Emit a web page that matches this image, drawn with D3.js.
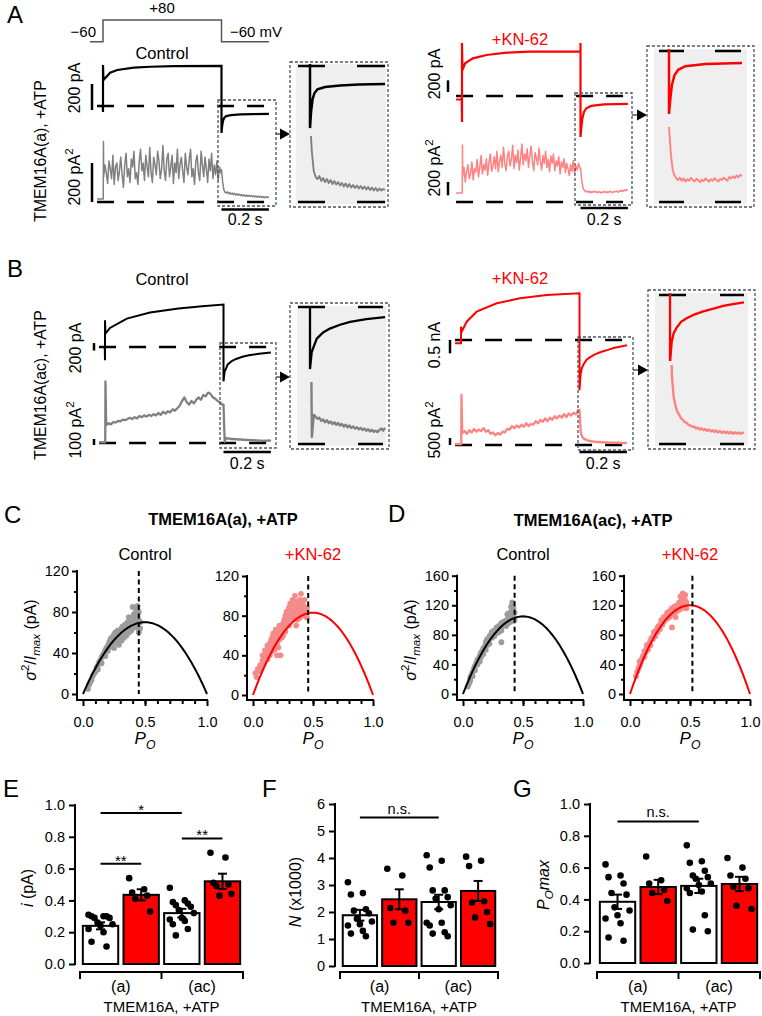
<!DOCTYPE html>
<html>
<head>
<meta charset="utf-8">
<script src="https://cdn.jsdelivr.net/npm/d3@7"></script>
<style>
  body { margin: 0; background: #fff; }
</style>
</head>
<body>
<svg id="fig" width="762" height="1016"></svg>
<script>
// ---------------- data ----------------
// voltage protocol (s, mV)
const protoV = [[-0.055, -60], [0, -60], [0, 80], [0.5, 80], [0.5, -60], [0.7, -60]];

// currents (s, pA)
const aCtrlCur = [[-0.025, 0], [-0.001, 0], [0, -46], [0, 315], [0.002, 200], [0.03, 256], [0.06, 277], [0.13, 295], [0.2, 302], [0.3, 307], [0.5, 308]];
const aCtrlTail = [[0.5, -207], [0.503, -150], [0.507, -110], [0.512, -90], [0.52, -78], [0.54, -70], [0.58, -65], [0.63, -62], [0.7, -60]];
const aKnCur = [[-0.025, -60], [-0.001, -60], [0, -446], [0, 909], [0.002, 446], [0.013, 560], [0.046, 646], [0.104, 703], [0.188, 743], [0.287, 760], [0.5, 760], [0.5, 909]];
const aKnTail = [[0.5, -703], [0.504, -520], [0.508, -380], [0.515, -270], [0.525, -210], [0.545, -170], [0.6, -145], [0.7, -135]];
const bCtrlCur = [[-0.025, 0], [-0.001, 0], [0, -359], [0, 722], [0.002, 362], [0.021, 514], [0.092, 768], [0.19, 930], [0.31, 1038], [0.41, 1100], [0.5, 1146]];
const bCtrlTail = [[0.5, -927], [0.5045, -673], [0.518, -472], [0.535, -380], [0.553, -323], [0.58, -265], [0.607, -224], [0.65, -180], [0.7, -150]];
const bKnCur = [[-0.025, -125], [-0.001, -125], [0, -125], [0, 500], [0.003, 311], [0.024, 686], [0.066, 1061], [0.151, 1375], [0.249, 1563], [0.362, 1688], [0.5, 1750]];
const bKnTail = [[0.5, -1875], [0.5046, -1286], [0.51, -1050], [0.518, -900], [0.53, -740], [0.545, -640], [0.565, -540], [0.59, -450], [0.62, -370], [0.644, -300], [0.67, -250], [0.7, -200]];

// variance (pA^2): holding level, onset spike, samples during pulse, samples of tail
const varHold = [15, 135, 10, 60];
const varSpike = [310, 855, 1027, 3570];
const aCtrlBand = [130, 190, 150, 95, 210, 170, 120, 240, 90, 180,
  200, 110, 160, 230, 140, 75, 190, 250, 130, 170,
  100, 220, 180, 260, 120, 150, 90, 210, 270, 160,
  200, 110, 240, 180, 130, 280, 150, 100, 230, 190,
  140, 260, 210, 120, 170, 290, 160, 110, 220, 250,
  130, 180, 240, 95, 200, 150, 270, 120, 190, 230,
  160, 100, 250, 180, 140, 220, 270, 130, 170, 90,
  210, 240, 150, 110, 260, 190, 130, 230, 170, 100,
  220, 160, 250, 120, 190, 140, 210, 110, 180, 150];
const aKnBand = [380, 520, 300, 460, 560, 350, 420, 600, 330, 500,
  450, 640, 380, 520, 700, 420, 560, 480, 650, 400,
  590, 720, 460, 540, 680, 500, 760, 450, 610, 700,
  520, 820, 580, 470, 690, 760, 540, 640, 850, 500,
  700, 590, 780, 480, 660, 870, 560, 720, 620, 800,
  520, 690, 840, 600, 470, 740, 660, 560, 810, 620,
  480, 700, 580, 760, 520, 640, 450, 690, 580, 720,
  470, 620, 540, 680, 420, 600, 520, 650, 440, 580,
  500, 400, 560, 460, 620, 430, 540, 480, 580, 510];
const bCtrlBand = [300, 330, 310, 350, 340, 370, 360, 390, 380, 400, 420, 400, 430, 410, 450, 430, 460, 440, 470, 450,
  480, 460, 500, 470, 520, 490, 530, 510, 560, 540, 580, 620, 700, 760, 680, 640, 700, 660, 720, 760,
  720, 800, 780, 840, 820, 760, 740, 700, 680, 640];
const bKnBand = [850, 1000, 800, 1050, 900, 1150, 950, 1100, 1000, 1200, 950, 1050, 800, 900, 700, 850, 750, 950, 900, 1150,
  1100, 1350, 1200, 1400, 1250, 1450, 1300, 1550, 1350, 1500, 1450, 1700, 1550, 1800, 1650, 1900, 1700, 1950, 1800, 2050,
  1900, 2100, 1950, 2200, 2000, 2250, 2100, 2300, 2200, 2500];
const aCtrlVarTail = [165, 100, 62, 50, 46, 52, 42, 48, 40, 46, 38, 44, 36, 42, 35, 40, 33, 38, 31, 37, 30, 36, 29, 34, 28, 33, 27, 32, 26, 31, 25, 30, 24, 29, 23, 28, 22, 27, 23, 26, 24];
const aKnVarTail = [510, 330, 220, 180, 160, 150, 165, 145, 160, 140, 155, 145, 165, 150, 140, 158, 148, 135, 152, 142, 160, 150, 138, 155, 145, 162, 150, 140, 158, 150, 165, 155, 145, 170, 160, 175, 162, 180, 168, 185, 175];
const bCtrlVarTail = [640, 20, 83, 78, 72, 75, 66, 70, 62, 68, 60, 64, 57, 62, 55, 60, 53, 57, 50, 55, 48, 53, 46, 50, 44, 48, 42, 46, 40, 44, 38, 42, 36, 40, 35, 38, 34, 40, 44, 38, 46];
const bKnVarTail = [2500, 950, 640, 520, 440, 400, 350, 330, 300, 290, 260, 255, 235, 240, 215, 225, 200, 215, 190, 205, 180, 198, 172, 190, 165, 185, 160, 178, 152, 172, 148, 168, 145, 165, 140, 160, 142, 158, 138, 156, 150];

// C, D: variance/Imax vs Po
const cCtrlPts = [[0.04,5],[0.05,9],[0.06,12],[0.07,14],[0.08,18],[0.09,20],[0.1,22],[0.11,26],[0.12,28],[0.12,24],[0.13,31],[0.14,33],[0.15,36],[0.15,30],[0.16,38],[0.17,40],[0.18,43],[0.18,37],[0.19,45],[0.2,47],[0.2,42],[0.21,50],[0.22,46],[0.22,53],[0.23,55],[0.23,49],[0.24,52],[0.25,58],[0.25,45],[0.26,54],[0.26,60],[0.27,50],[0.27,56],[0.28,62],[0.28,52],[0.29,58],[0.29,48],[0.3,60],[0.3,55],[0.31,64],[0.31,52],[0.32,58],[0.32,66],[0.33,55],[0.33,62],[0.34,60],[0.34,68],[0.35,57],[0.35,64],[0.36,62],[0.36,70],[0.37,60],[0.37,66],[0.38,64],[0.38,72],[0.39,68],[0.39,62],[0.4,66],[0.4,74],[0.41,70],[0.41,78],[0.42,68],[0.42,74],[0.43,72],[0.43,82],[0.44,76],[0.44,68],[0.45,72],[0.45,80],[0.46,70],[0.46,64],[0.4,85],[0.42,84],[0.44,86],[0.37,75],[0.45,60],[0.43,65]];
const cKnPts = [[0.02,22],[0.03,18],[0.04,26],[0.05,24],[0.06,30],[0.07,28],[0.08,35],[0.08,40],[0.09,32],[0.1,38],[0.1,45],[0.11,42],[0.12,36],[0.12,50],[0.13,46],[0.14,52],[0.14,40],[0.15,55],[0.15,48],[0.16,44],[0.16,58],[0.17,50],[0.17,62],[0.18,54],[0.18,46],[0.19,60],[0.19,66],[0.2,52],[0.2,58],[0.21,64],[0.21,48],[0.22,56],[0.22,70],[0.23,62],[0.23,40],[0.24,66],[0.24,58],[0.25,72],[0.25,60],[0.26,68],[0.26,76],[0.27,64],[0.27,80],[0.28,72],[0.28,84],[0.29,76],[0.3,70],[0.3,88],[0.31,80],[0.31,92],[0.32,76],[0.32,86],[0.33,82],[0.33,96],[0.34,78],[0.34,90],[0.35,84],[0.35,100],[0.36,80],[0.36,94],[0.37,86],[0.37,76],[0.38,90],[0.38,82],[0.39,96],[0.39,78],[0.4,88],[0.4,102],[0.41,84],[0.41,94],[0.42,90],[0.42,80],[0.43,86],[0.43,96],[0.44,82],[0.45,88],[0.45,78],[0.36,70],[0.2,40]];
const dCtrlPts = [[0.04,10],[0.05,14],[0.06,18],[0.06,22],[0.07,26],[0.08,24],[0.08,30],[0.09,34],[0.1,32],[0.1,38],[0.11,42],[0.12,40],[0.12,46],[0.13,48],[0.14,44],[0.14,52],[0.15,50],[0.15,56],[0.16,58],[0.17,54],[0.17,62],[0.18,64],[0.19,60],[0.19,70],[0.2,66],[0.2,74],[0.21,72],[0.22,78],[0.22,68],[0.23,80],[0.24,76],[0.24,84],[0.25,80],[0.26,86],[0.26,78],[0.27,84],[0.28,90],[0.28,82],[0.29,88],[0.3,84],[0.3,92],[0.31,90],[0.32,86],[0.32,96],[0.33,92],[0.34,98],[0.32,70],[0.35,94],[0.36,100],[0.36,92],[0.37,98],[0.38,104],[0.38,96],[0.39,102],[0.39,110],[0.4,106],[0.4,98],[0.41,112],[0.41,104],[0.42,108],[0.42,116],[0.43,110],[0.43,100],[0.4,118],[0.41,124],[0.37,108]];
const dKnPts = [[0.05,24],[0.06,30],[0.07,34],[0.08,38],[0.08,44],[0.09,42],[0.1,48],[0.11,52],[0.12,50],[0.12,58],[0.13,56],[0.14,62],[0.14,66],[0.15,60],[0.16,68],[0.17,72],[0.17,66],[0.18,76],[0.19,74],[0.2,80],[0.2,84],[0.21,78],[0.22,86],[0.23,90],[0.23,84],[0.24,92],[0.25,88],[0.26,96],[0.26,100],[0.27,94],[0.28,98],[0.28,104],[0.29,100],[0.3,106],[0.31,102],[0.31,110],[0.32,106],[0.33,112],[0.33,104],[0.34,108],[0.35,116],[0.35,90],[0.36,112],[0.37,118],[0.37,110],[0.38,114],[0.39,120],[0.39,112],[0.4,118],[0.41,124],[0.41,114],[0.42,120],[0.43,126],[0.43,116],[0.44,122],[0.45,130],[0.45,118],[0.46,126],[0.46,134],[0.47,124],[0.47,116],[0.44,136],[0.42,132],[0.38,104]];
const fitPeak = [70, 83, 105, 120];      // parabola maximum (pA)
const poMaxLine = [0.45, 0.46, 0.43, 0.52];

// E-G: bar summaries  (order: (a) ctrl, (a) KN-62, (ac) ctrl, (ac) KN-62)
const groups = ['(a)', '(ac)'];
const eMean = [0.24, 0.435, 0.32, 0.52];
const eSem = [0.022, 0.035, 0.027, 0.048];
const eDots = [[0.31,0.30,0.30,0.30,0.29,0.29,0.26,0.25,0.24,0.22,0.20,0.14,0.11],
  [0.54,0.47,0.45,0.43,0.41,0.33],
  [0.48,0.40,0.39,0.38,0.37,0.36,0.34,0.32,0.29,0.28,0.27,0.25,0.22,0.18],
  [0.70,0.67,0.51,0.50,0.49,0.44,0.43]];
const eSig = [[0, 2, 0.95, '*'], [0, 1, 0.63, '**'], [2, 3, 0.79, '**']];
const fMean = [1.88, 2.47, 2.37, 2.78];
const fSem = [0.2, 0.37, 0.27, 0.37];
const fDots = [[3.1,2.7,2.65,2.1,2.05,1.95,1.75,1.65,1.55,1.5,1.3,1.2,1.1],
  [3.6,3.35,2.15,2.05,1.6,1.6],
  [4.1,3.9,3.65,2.8,2.8,2.55,2.5,2.25,2.1,1.6,1.6,1.5,1.25,1.2,1.1],
  [4.05,3.9,3.7,2.4,2.35,2.0,1.8,1.55]];
const fSig = [[0, 2, 5.5, 'n.s.']];
const gMean = [0.385, 0.478, 0.485, 0.497];
const gSem = [0.045, 0.045, 0.045, 0.045];
const gDots = [[0.62,0.55,0.54,0.50,0.44,0.43,0.35,0.33,0.30,0.28,0.25,0.16,0.14],
  [0.67,0.52,0.50,0.46,0.44,0.39],
  [0.74,0.64,0.63,0.58,0.55,0.54,0.53,0.50,0.49,0.47,0.45,0.44,0.30,0.21,0.20],
  [0.66,0.60,0.55,0.53,0.48,0.47,0.36,0.34]];
const gSig = [[0, 2, 0.89, 'n.s.']];

// ---------------- drawing ----------------
const FONT = '"Liberation Sans", Arial, Helvetica, sans-serif';
const svg = d3.select('#fig').attr('font-family', FONT);
const defs = svg.append('defs');
const RED = '#ff0000', PINK = '#ff8282', GRAY = '#808080';
const PX_PER_S = 237;

// text with italic / super / sub parts
function rich(x, y, parts, o = {}) {
  const size = o.size || 14;
  const t = svg.append('text')
    .attr('transform', `translate(${x},${y}) rotate(${o.rot || 0})`)
    .attr('text-anchor', o.anchor || 'middle')
    .attr('font-size', size)
    .attr('font-weight', o.weight || 'normal')
    .attr('fill', o.fill || '#000');
  let shift = 0;
  parts.forEach(p => {
    const f = p[1] || '';
    const want = f.includes('u') ? -0.42 * size : f.includes('d') ? 0.28 * size : 0;
    const s = t.append('tspan').text(p[0]).attr('dy', want - shift);
    shift = want;
    if (f.includes('i')) s.attr('font-style', 'italic');
    if (f.includes('u') || f.includes('d')) s.attr('font-size', size * 0.72);
  });
  return t;
}

// panel letters
[['A', 7, 23], ['B', 7, 277], ['C', 4, 523], ['D', 388, 522], ['E', 3, 797], ['F', 262, 797], ['G', 513, 797]]
  .forEach(d => rich(d[1], d[2], [[d[0]]], { size: 24, anchor: 'start' }));

// voltage protocol
{
  const x = d3.scaleLinear().domain([0, 1]).range([103, 103 + PX_PER_S]);
  const y = d3.scaleLinear().domain([-60, 80]).range([41.7, 20]);
  svg.append('path').datum(protoV)
    .attr('d', d3.line().x(d => x(d[0])).y(d => y(d[1])))
    .attr('fill', 'none').attr('stroke', '#555').attr('stroke-width', 1.5);
  rich(162, 13, [['+80']], { size: 15 });
  rich(96, 37, [['\u221260']], { size: 15, anchor: 'end' });
  rich(230, 37, [['\u221260 mV']], { size: 15, anchor: 'start' });
}

// side labels
rich(46, 151, [['TMEM16A(a), +ATP']], { size: 15.8, rot: -90 });
rich(46, 385, [['TMEM16A(ac), +ATP']], { size: 15.8, rot: -90 });

const traceLayout = [
  { x0: 103, iz: 106, ik: 0.13, vz: 202, vk: 0.195, sbx: 92, ib: 110, vb: 202, ival: 200, vval: 200,
    ilab: [['200 pA']], vlab: [['200 pA'], ['2', 'u']], lx: 80, ily: 88, vly: 177,
    title: 'Control', tx: 162, ty: 59, box: [218, 100, 276, 206], tby: 209.5, tly: 225, ay: 134,
    ins: { box: [290, 62, 388, 207], inner: [296, 64, 386, 204], x0: 310, x1: 385, iz: 66, ik: 0.3, vz: 202, vk: 0.5, vTop: 136, bars: [[298, 325], [357, 385]] },
    lw: 2.2, vlw: 1.5, ivlw: 1.9 },
  { x0: 462, iz: 96, ik: 0.0583, vz: 202, vk: 0.0667, sbx: 448, ib: 92, vb: 195.3, ival: 200, vval: 200,
    ilab: [['200 pA']], vlab: [['200 pA'], ['2', 'u']], lx: 440, ily: 74, vly: 168,
    title: '+KN-62', tx: 520, ty: 45, box: [575, 93, 632, 205], tby: 208, tly: 225, ay: 115,
    ins: { box: [647, 46, 754, 207], inner: [654, 49, 747, 204], x0: 669, x1: 742, iz: 51, ik: 0.0896, vz: 202, vk: 0.147, vTop: 127, bars: [[659, 684], [715, 741]] },
    lw: 2.2, vlw: 1.5, ivlw: 1.9 },
  { x0: 105, iz: 347, ik: 0.037, vz: 443, vk: 0.06, sbx: 94, ib: 350.5, vb: 445, ival: 200, vval: 100,
    ilab: [['200 pA']], vlab: [['100 pA'], ['2', 'u']], lx: 81, ily: 348, vly: 430,
    title: 'Control', tx: 162, ty: 285, box: [220, 343, 276, 448], tby: 452, tly: 469, ay: 377,
    ins: { box: [290, 303, 389, 449], inner: [297, 306, 386, 446], x0: 310, x1: 385, iz: 307, ik: 0.0669, vz: 444, vk: 0.35, vTop: 382, bars: [[298, 325], [358, 383]] },
    lw: 2, vlw: 2.3, ivlw: 2.4 },
  { x0: 461, iz: 340, ik: 0.0267, vz: 445, vk: 0.014, sbx: 450, ib: 353.3, vb: 445, ival: 500, vval: 500,
    ilab: [['0.5 nA']], vlab: [['500 pA'], ['2', 'u']], lx: 440, ily: 345, vly: 430,
    title: '+KN-62', tx: 520, ty: 284, box: [578, 337, 633, 450], tby: 452, tly: 469, ay: 370,
    ins: { box: [648, 290, 755, 449], inner: [655, 293, 748, 446], x0: 670, x1: 744, iz: 295, ik: 0.0363, vz: 444, vk: 0.073, vTop: 365, bars: [[659, 686], [720, 744]] },
    lw: 2, vlw: 2.3, ivlw: 2.4 }
];
const traceData = [
  [aCtrlCur, aCtrlTail, aCtrlBand, aCtrlVarTail, '#000', GRAY],
  [aKnCur, aKnTail, aKnBand, aKnVarTail, RED, PINK],
  [bCtrlCur, bCtrlTail, bCtrlBand, bCtrlVarTail, '#000', GRAY],
  [bKnCur, bKnTail, bKnBand, bKnVarTail, RED, PINK]
];

traceLayout.forEach((L, k) => {
  const [cur, tail, band, vtail, col, vcol] = traceData[k];
  const g = svg.append('g');
  const x = d3.scaleLinear().domain([0, 1]).range([L.x0, L.x0 + PX_PER_S]);
  const yI = d3.scaleLinear().domain([0, 1]).range([L.iz, L.iz - L.ik]);
  const yV = d3.scaleLinear().domain([0, 1]).range([L.vz, L.vz - L.vk]);
  const tailT = i => 0.5 + i * 0.2 / (vtail.length - 1);
  const vTailPts = vtail.map((v, i) => [tailT(i), v]);
  const vPts = [[-0.025, varHold[k]], [0.001, varHold[k]], [0.002, varSpike[k]]]
    .concat(band.map((v, i) => [(i + 0.5) * 0.5 / band.length, v]))
    .concat(vTailPts);
  const iPts = cur.concat(tail);

  // zero lines
  [L.iz, L.vz].forEach(yy => g.append('line')
    .attr('x1', x(-0.025)).attr('x2', x(0.7)).attr('y1', yy).attr('y2', yy)
    .attr('stroke', '#000').attr('stroke-width', 2.5).attr('stroke-dasharray', '17,13'));

  g.append('path').datum(vPts)
    .attr('d', d3.line().x(d => x(d[0])).y(d => yV(d[1])))
    .attr('fill', 'none').attr('stroke', vcol).attr('stroke-width', L.vlw).attr('stroke-linejoin', 'round');
  g.append('path').datum(iPts)
    .attr('d', d3.line().x(d => x(d[0])).y(d => yI(d[1])))
    .attr('fill', 'none').attr('stroke', col).attr('stroke-width', L.lw);

  // scale bars
  g.append('line').attr('x1', L.sbx).attr('x2', L.sbx).attr('y1', L.ib).attr('y2', L.ib - (yI(0) - yI(L.ival)))
    .attr('stroke', '#000').attr('stroke-width', 2.5);
  g.append('line').attr('x1', L.sbx).attr('x2', L.sbx).attr('y1', L.vb).attr('y2', L.vb - (yV(0) - yV(L.vval)))
    .attr('stroke', '#000').attr('stroke-width', 2.5);
  rich(L.lx, L.ily, L.ilab, { size: 16, rot: -90 });
  rich(L.lx, L.vly, L.vlab, { size: 16, rot: -90 });
  rich(L.tx, L.ty, [[L.title]], { size: 16.5, fill: col });

  // time bar
  g.append('line').attr('x1', x(0.5)).attr('x2', x(0.7)).attr('y1', L.tby).attr('y2', L.tby)
    .attr('stroke', '#000').attr('stroke-width', 2.5);
  rich((x(0.5) + x(0.7)) / 2, L.tly, [['0.2 s']], { size: 16 });

  // zoom box + arrow
  const b = L.box;
  g.append('rect').attr('x', b[0]).attr('y', b[1]).attr('width', b[2] - b[0]).attr('height', b[3] - b[1])
    .attr('fill', 'none').attr('stroke', '#4a5363').attr('stroke-width', 1.3).attr('stroke-dasharray', '3,2');
  const I = L.ins;
  g.append('line').attr('x1', b[2]).attr('x2', I.box[0] - 8).attr('y1', L.ay).attr('y2', L.ay)
    .attr('stroke', '#000').attr('stroke-width', 1);
  g.append('path').attr('d', `M${I.box[0] - 10},${L.ay - 5.5}L${I.box[0]},${L.ay}L${I.box[0] - 10},${L.ay + 5.5}Z`).attr('fill', '#000');

  // inset
  g.append('rect').attr('x', I.box[0]).attr('y', I.box[1]).attr('width', I.box[2] - I.box[0]).attr('height', I.box[3] - I.box[1])
    .attr('fill', '#fff').attr('stroke', '#4a5363').attr('stroke-width', 1.3).attr('stroke-dasharray', '3,2');
  g.append('rect').attr('x', I.inner[0]).attr('y', I.inner[1]).attr('width', I.inner[2] - I.inner[0]).attr('height', I.inner[3] - I.inner[1])
    .attr('fill', '#efefef');
  const xi = d3.scaleLinear().domain([0.5, 0.7]).range([I.x0, I.x1]);
  const yIi = d3.scaleLinear().domain([0, 1]).range([I.iz, I.iz - I.ik]);
  const yVi = d3.scaleLinear().domain([0, 1]).range([I.vz, I.vz - I.vk]);
  [I.iz, I.vz].forEach(yy => I.bars.forEach(br => g.append('line')
    .attr('x1', br[0]).attr('x2', br[1]).attr('y1', yy).attr('y2', yy)
    .attr('stroke', '#000').attr('stroke-width', 2.5)));
  defs.append('clipPath').attr('id', 'ci' + k).append('rect')
    .attr('x', I.inner[0]).attr('y', I.inner[1]).attr('width', I.inner[2] - I.inner[0]).attr('height', I.vTop - 4 - I.inner[1]);
  defs.append('clipPath').attr('id', 'cv' + k).append('rect')
    .attr('x', I.inner[0]).attr('y', I.vTop).attr('width', I.inner[2] - I.inner[0]).attr('height', I.inner[3] - I.vTop);
  const iIns = cur.filter(d => d[0] >= 0.5).concat(tail);
  g.append('path').datum(vTailPts).attr('clip-path', `url(#cv${k})`)
    .attr('d', d3.line().x(d => xi(d[0])).y(d => yVi(d[1])))
    .attr('fill', 'none').attr('stroke', vcol).attr('stroke-width', L.ivlw).attr('stroke-linejoin', 'round');
  g.append('path').datum(iIns).attr('clip-path', `url(#ci${k})`)
    .attr('d', d3.line().x(d => xi(d[0])).y(d => yIi(d[1])))
    .attr('fill', 'none').attr('stroke', col).attr('stroke-width', L.lw + 0.3);
});

// ---------- C, D ----------
rich(223, 525, [['TMEM16A(a), +ATP']], { size: 16.5, weight: 'bold' });
rich(593, 526, [['TMEM16A(ac), +ATP']], { size: 16.5, weight: 'bold' });

const scatterLayout = [
  { ax: 77, x0: 83, w: 124, y0: 694, yTop: 571, ymax: 120, title: 'Control', tc: '#000', yl: 36 },
  { ax: 247, x0: 253, w: 120, y0: 695, yTop: 576, ymax: 120, title: '+KN-62', tc: RED },
  { ax: 457, x0: 463, w: 120, y0: 694, yTop: 575.7, ymax: 160, title: 'Control', tc: '#000', yl: 416 },
  { ax: 624, x0: 630, w: 120, y0: 694, yTop: 575.7, ymax: 160, title: '+KN-62', tc: RED }
];
const scatterData = [[cCtrlPts, '#9c9c9c', '#000'], [cKnPts, '#f48a8a', RED], [dCtrlPts, '#9c9c9c', '#000'], [dKnPts, '#f48a8a', RED]];
const X_AXIS_Y = 700;

function styleAxis(sel, size) {
  sel.attr('font-family', FONT).attr('font-size', size);
  sel.select('.domain').remove();
  sel.selectAll('.tick line').attr('stroke', '#000').attr('stroke-width', 2);
  sel.selectAll('.tick text').attr('fill', '#000');
}

scatterLayout.forEach((c, k) => {
  const [pts, fill, lc] = scatterData[k];
  const g = svg.append('g');
  const x = d3.scaleLinear().domain([0, 1]).range([c.x0, c.x0 + c.w]);
  const y = d3.scaleLinear().domain([0, c.ymax]).range([c.y0, c.yTop]);
  const major = d3.range(0, c.ymax + 1, 40);
  const minor = d3.range(20, c.ymax, 40);
  g.append('g').attr('transform', `translate(${c.ax},0)`)
    .call(d3.axisLeft(y).tickValues(major).tickSize(5).tickPadding(3)).call(s => styleAxis(s, 14.5));
  g.append('g').attr('transform', `translate(${c.ax},0)`)
    .call(d3.axisLeft(y).tickValues(minor).tickSize(3).tickFormat('')).call(s => styleAxis(s, 14.5));
  g.append('g').attr('transform', `translate(0,${X_AXIS_Y})`)
    .call(d3.axisBottom(x).tickValues([0, 0.5, 1]).tickFormat(d3.format('.1f')).tickSize(6).tickPadding(11)).call(s => styleAxis(s, 14.5));
  g.append('g').attr('transform', `translate(0,${X_AXIS_Y})`)
    .call(d3.axisBottom(x).tickValues(d3.range(0.1, 1, 0.1)).tickSize(4).tickFormat('')).call(s => styleAxis(s, 14.5));
  g.append('line').attr('x1', c.ax).attr('x2', c.ax).attr('y1', y(c.ymax) - 1).attr('y2', X_AXIS_Y + 1)
    .attr('stroke', '#000').attr('stroke-width', 2);
  g.append('line').attr('x1', c.ax).attr('x2', x(1) + 1).attr('y1', X_AXIS_Y).attr('y2', X_AXIS_Y)
    .attr('stroke', '#000').attr('stroke-width', 2);

  g.selectAll('circle').data(pts).join('circle')
    .attr('cx', d => x(d[0])).attr('cy', d => y(d[1])).attr('r', 2.9).attr('fill', fill);
  const curve = d3.range(0, 1.0001, 0.01).map(p => [p, 4 * fitPeak[k] * p * (1 - p)]);
  g.append('path').datum(curve).attr('d', d3.line().x(d => x(d[0])).y(d => y(d[1])))
    .attr('fill', 'none').attr('stroke', lc).attr('stroke-width', 2);
  g.append('line').attr('x1', x(poMaxLine[k])).attr('x2', x(poMaxLine[k])).attr('y1', y(c.ymax)).attr('y2', y(0))
    .attr('stroke', '#000').attr('stroke-width', 2).attr('stroke-dasharray', '5,3.5');

  rich(x(0.5), 560, [[c.title]], { size: 16.5, fill: c.tc });
  rich(x(0.5), 744, [['P', 'i'], ['O', 'id']], { size: 17 });
  if (c.yl) rich(c.yl, 640, [['\u03c3', 'i'], ['2', 'u'], ['/'], ['I', 'i'], ['max', 'id'], [' (pA)']], { size: 16, rot: -90 });
});

// ---------- E, F, G ----------
const barLayout = [
  { ax: 75, xa0: 80, xa1: 243, y0: 964, yTop: 805, ymax: 1, ticks: [0, 0.2, 0.4, 0.6, 0.8, 1], fmt: '.1f',
    yl: 33, yly: 888, ylab: [['i', 'i'], [' (pA)']] },
  { ax: 335, xa0: 340, xa1: 498, y0: 966, yTop: 804, ymax: 6, ticks: [0, 1, 2, 3, 4, 5, 6], fmt: 'd',
    yl: 301, yly: 892, ylab: [['N', 'i'], [' (x1000)']] },
  { ax: 590, xa0: 597, xa1: 760, y0: 963, yTop: 804, ymax: 1, ticks: [0, 0.2, 0.4, 0.6, 0.8, 1], fmt: '.1f',
    yl: 549, yly: 885, ylab: [['P', 'i'], ['O', 'id'], ['max', 'i']] }
];
const barData = [[eMean, eSem, eDots, eSig], [fMean, fSem, fDots, fSig], [gMean, gSem, gDots, gSig]];
const jit = i => ((i * 5) % 9 - 4) * 3;

barLayout.forEach((c, k) => {
  const [means, sems, dots, sigs] = barData[k];
  const g = svg.append('g');
  const x = d3.scaleBand().domain(d3.range(4)).range([c.xa0, c.xa1]).paddingInner(0.13).paddingOuter(0.07);
  const y = d3.scaleLinear().domain([0, c.ymax]).range([c.y0, c.yTop]);
  const cx = i => x(i) + x.bandwidth() / 2;
  const ax = g.append('g').attr('transform', `translate(${c.ax},0)`)
    .call(d3.axisLeft(y).tickValues(c.ticks).tickFormat(d3.format(c.fmt)).tickSize(6).tickPadding(4));
  styleAxis(ax, 14.5);
  g.append('line').attr('x1', c.ax).attr('x2', c.ax).attr('y1', y(c.ymax) - 1).attr('y2', y(0) + 1)
    .attr('stroke', '#000').attr('stroke-width', 2);
  const xAxY = 972;
  g.append('line').attr('x1', c.xa0 - 1).attr('x2', c.xa1 + 1).attr('y1', xAxY).attr('y2', xAxY)
    .attr('stroke', '#000').attr('stroke-width', 2);
  [c.xa0, (c.xa0 + c.xa1) / 2, c.xa1].forEach(t => g.append('line')
    .attr('x1', t).attr('x2', t).attr('y1', xAxY).attr('y2', xAxY + 7).attr('stroke', '#000').attr('stroke-width', 2));

  g.selectAll('rect.bar').data(means).join('rect').attr('class', 'bar')
    .attr('x', (d, i) => x(i)).attr('y', d => y(d)).attr('width', x.bandwidth()).attr('height', d => y(0) - y(d))
    .attr('fill', (d, i) => i % 2 ? RED : '#fff').attr('stroke', '#000').attr('stroke-width', 2);
  means.forEach((m, i) => {
    const e = sems[i];
    g.append('line').attr('x1', cx(i)).attr('x2', cx(i)).attr('y1', y(m - e)).attr('y2', y(m + e))
      .attr('stroke', '#000').attr('stroke-width', 2);
    [m - e, m + e].forEach(v => g.append('line').attr('x1', cx(i) - 4.5).attr('x2', cx(i) + 4.5)
      .attr('y1', y(v)).attr('y2', y(v)).attr('stroke', '#000').attr('stroke-width', 2));
    g.selectAll(null).data(dots[i]).join('circle')
      .attr('cx', (d, j) => cx(i) + jit(j)).attr('cy', d => y(d)).attr('r', 3.3).attr('fill', '#000');
  });
  sigs.forEach(s => {
    g.append('line').attr('x1', cx(s[0])).attr('x2', cx(s[1])).attr('y1', y(s[2])).attr('y2', y(s[2]))
      .attr('stroke', '#000').attr('stroke-width', 2);
    const star = s[3].includes('*');
    rich((cx(s[0]) + cx(s[1])) / 2, y(s[2]) + (star ? 2 : -4), [[s[3]]], { size: star ? 15 : 14.5 });
  });
  groups.forEach((gl, j) => rich((cx(2 * j) + cx(2 * j + 1)) / 2, 992, [[gl]], { size: 16 }));
  rich((c.xa0 + c.xa1) / 2, 1012, [['TMEM16A, +ATP']], { size: 15 });
  rich(c.yl, c.yly, c.ylab, { size: 16, rot: -90 });
});
</script>
</body>
</html>
